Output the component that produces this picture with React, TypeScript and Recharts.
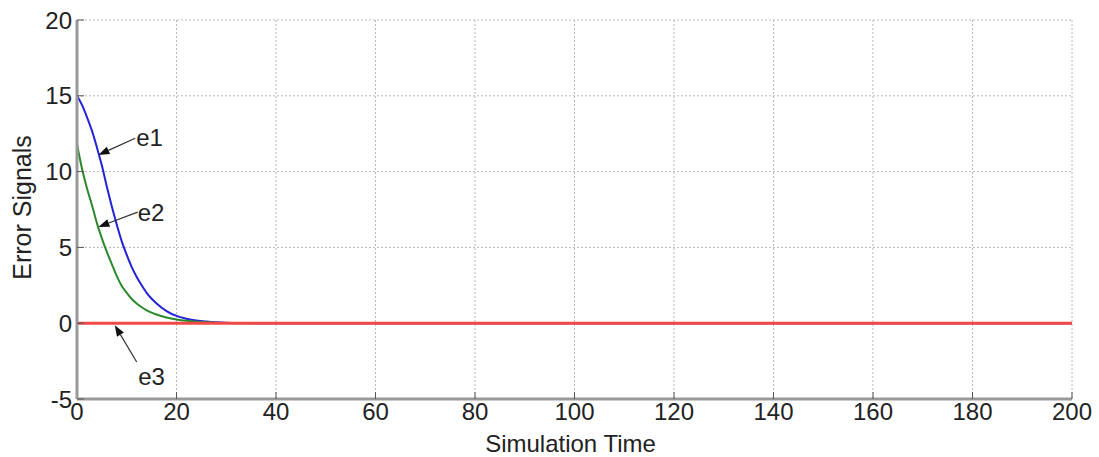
import React from 'react';
import { LineChart, Line, XAxis, YAxis, CartesianGrid, ReferenceLine } from 'recharts';

const times = [0, 1, 2, 3, 4, 5, 6, 7, 8, 9, 10, 11, 12, 13, 14, 16, 18, 20, 22, 24, 26, 28, 30, 34, 38, 200];
const e1 = [15, 14.4, 13.6, 12.7, 11.6, 10.4, 9.0, 7.7, 6.5, 5.4, 4.5, 3.7, 3.05, 2.5, 2.0, 1.3, 0.8, 0.48, 0.3, 0.18, 0.11, 0.06, 0.03, 0.01, 0, 0];
const e2 = [11.8, 10.2, 8.9, 7.8, 6.6, 5.6, 4.7, 3.9, 3.1, 2.45, 2.0, 1.6, 1.3, 1.05, 0.85, 0.57, 0.38, 0.25, 0.16, 0.1, 0.06, 0.03, 0.015, 0, 0, 0];
const e3 = times.map(() => 0);

const xTicks = [0, 20, 40, 60, 80, 100, 120, 140, 160, 180, 200];
const yTicks = [-5, 0, 5, 10, 15, 20];

// annotation arrows: tail -> tip, with label point (data units)
const notes = [
  { name: 'e1', tail: [11.7, 12.2], tip: [4.3, 11.1], label: [11.9, 12.2] },
  { name: 'e2', tail: [12.2, 7.33], tip: [4.3, 6.35], label: [12.2, 7.3] },
  { name: 'e3', tail: [12.0, -2.56], tip: [7.6, -0.13], label: [12.3, -3.55] },
];

const data = times.map((t, i) => ({ t, e1: e1[i], e2: e2[i], e3: e3[i] }));

const FONT = '"Liberation Sans", Arial, sans-serif';
const TEXT = '#222';
const FRAME = { stroke: '#999', strokeWidth: 3 };

function Arrow(props: any) {
  const { x1, y1, x2, y2 } = props;
  const ang = Math.atan2(y2 - y1, x2 - x1);
  const len = 11;
  const w = 4;
  const bx = x2 - len * Math.cos(ang);
  const by = y2 - len * Math.sin(ang);
  const px = -Math.sin(ang) * w;
  const py = Math.cos(ang) * w;
  return (
    <g>
      <line x1={x1} y1={y1} x2={bx} y2={by} stroke="#333" strokeWidth={1.2} />
      <polygon points={`${x2},${y2} ${bx + px},${by + py} ${bx - px},${by - py}`} fill="#111" />
    </g>
  );
}

function NoteLabel(text: string) {
  return (props: any) => {
    const { x1, y1 } = props;
    return (
      <text x={x1} y={y1} dy={8} fontSize={24} fontFamily={FONT} fill={TEXT}>
        {text}
      </text>
    );
  };
}

function XLabel(props: any) {
  const { x, width } = props.viewBox;
  return (
    <text x={x + width / 2 - 4} y={443} textAnchor="middle" dominantBaseline="central" fontSize={24} fontFamily={FONT} fill={TEXT}>
      Simulation Time
    </text>
  );
}

function YLabel(props: any) {
  const { y, height } = props.viewBox;
  const cy = y + height / 2 - 2;
  return (
    <text x={22} y={cy} transform={`rotate(-90 22 ${cy})`} textAnchor="middle" dominantBaseline="central" fontSize={25} fontFamily={FONT} fill={TEXT}>
      Error Signals
    </text>
  );
}

export default function App() {
  return (
    <div style={{ position: 'absolute', left: 0, top: 0, background: '#fff', width: 1099, height: 457, overflow: 'hidden' }}>
      <LineChart width={1099} height={457} data={data} margin={{ top: 20, right: 27, bottom: 0, left: 0 }}>
        <CartesianGrid stroke="#b8b8b8" strokeDasharray="2 2" />
        <XAxis
          dataKey="t"
          type="number"
          domain={[0, 200]}
          ticks={xTicks}
          tickLine={{ stroke: '#555' }}
          tickSize={-7}
          tickMargin={11}
          axisLine={FRAME}
          tick={{ fontSize: 24, fill: TEXT, fontFamily: FONT }}
          height={58}
          label={<XLabel />}
        />
        <XAxis
          xAxisId="top"
          orientation="top"
          dataKey="t"
          type="number"
          domain={[0, 200]}
          ticks={xTicks}
          tickLine={{ stroke: '#555' }}
          tickSize={-7}
          axisLine={FRAME}
          tick={false}
          height={0}
        />
        <YAxis
          type="number"
          domain={[-5, 20]}
          ticks={yTicks}
          tickLine={{ stroke: '#555' }}
          tickSize={-7}
          tickMargin={12}
          axisLine={FRAME}
          tick={{ fontSize: 24, fill: TEXT, fontFamily: FONT }}
          width={77}
          label={<YLabel />}
        />
        <YAxis
          yAxisId="right"
          orientation="right"
          type="number"
          domain={[-5, 20]}
          ticks={yTicks}
          tickLine={{ stroke: '#555' }}
          tickSize={-7}
          axisLine={FRAME}
          tick={false}
          width={0}
        />
        <Line type="monotone" dataKey="e1" stroke="#2323d8" strokeWidth={2} dot={false} isAnimationActive={false} />
        <Line type="monotone" dataKey="e2" stroke="#2a8a2a" strokeWidth={2} dot={false} isAnimationActive={false} />
        <Line type="linear" dataKey="e3" stroke="#f24848" strokeWidth={3} dot={false} isAnimationActive={false} />
        {notes.map((n) => (
          <ReferenceLine
            key={n.name}
            segment={[{ x: n.tail[0], y: n.tail[1] }, { x: n.tip[0], y: n.tip[1] }]}
            ifOverflow="visible"
            shape={Arrow}
          />
        ))}
        {notes.map((n) => (
          <ReferenceLine
            key={n.name + '-label'}
            segment={[{ x: n.label[0], y: n.label[1] }, { x: n.label[0], y: n.label[1] }]}
            ifOverflow="visible"
            shape={NoteLabel(n.name)}
          />
        ))}
      </LineChart>
    </div>
  );
}
